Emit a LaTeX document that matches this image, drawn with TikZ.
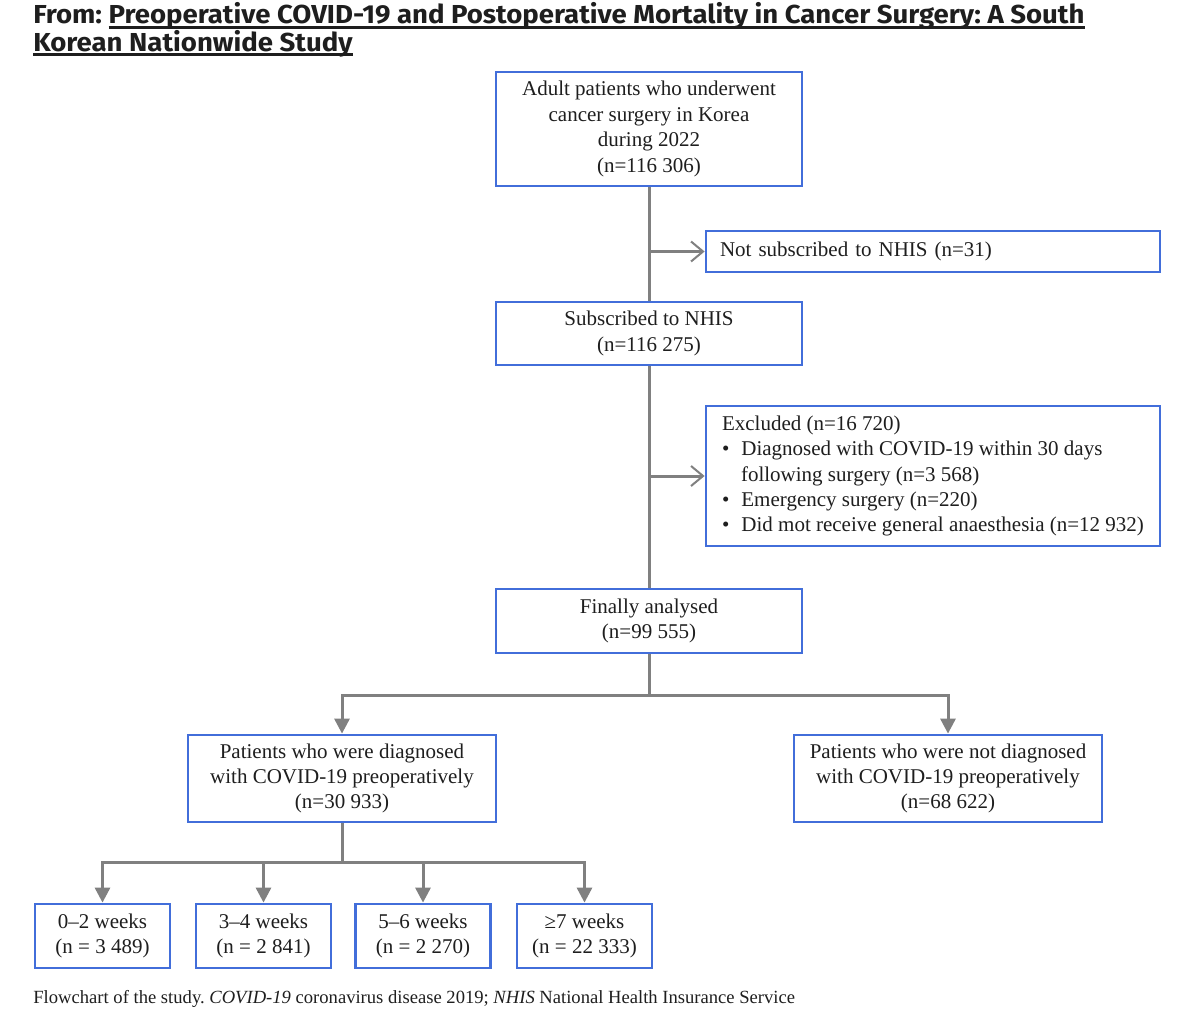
\documentclass[tikz,border=0pt]{standalone}
\usepackage{fontspec}
\setmainfont{Liberation Serif}
\newfontfamily\titlefont[FakeStretch=1.06]{Fira Sans}
\usetikzlibrary{positioning, arrows.meta}
\definecolor{boxblue}{RGB}{66,110,218}
\definecolor{linegray}{RGB}{128,128,128}
\definecolor{inkgray}{RGB}{30,30,30}
\newcommand{\titleul}[1]{\sbox0{#1}\rlap{\rule[-2.3pt]{\wd0}{1.1pt}}\usebox0}
\frenchspacing

\begin{document}
\begin{tikzpicture}[
            x=0.5pt, y=-0.5pt,
            flowbox/.style={draw=boxblue, line width=1.4pt, fill=white, align=center, inner sep=0pt, text=inkgray, font=\fontsize{10.5}{12.7}\selectfont},
            leftbox/.style={flowbox, align=left, minimum width=227pt},
            weekbox/.style={flowbox, minimum width=67.5pt, minimum height=32pt},
            link/.style={draw=linegray, line width=1.5pt},
            barb/.style={link, -{Straight Barb[length=6pt, width=10pt, line width=1pt]}},
            drop/.style={link, -{Triangle[length=7.5pt, width=7.5pt]}},
            plain/.style={inner sep=0pt, anchor=base west, text=inkgray}
        ]
            \useasboundingbox (0,0) rectangle (1200,1033);

            % Title
            \node[plain, font=\titlefont\bfseries\fontsize{13}{13}\selectfont] (title1) at (33,24) {From: \titleul{Preoperative COVID-19 and Postoperative Mortality in Cancer Surgery: A South}};
            \node[plain, font=\titlefont\bfseries\fontsize{13}{13}\selectfont] (title2) at (33,51) {\titleul{Korean Nationwide Study}};

            % Main column
            \node[flowbox, minimum width=153pt, minimum height=57pt] (adult) at (649,129) {Adult patients who underwent\\cancer surgery in Korea\\during 2022\\(n=116 306)};
            \node[flowbox, minimum width=153pt, minimum height=31.5pt] (sub) at (649,333.5) {Subscribed to NHIS\\(n=116 275)};
            \node[flowbox, minimum width=153pt, minimum height=32pt] (final) at (649,621) {Finally analysed\\(n=99 555)};

            % Side boxes
            \node[leftbox, text width=213pt, inner xsep=7pt, minimum height=20.5pt] (notsub) at (933,251.5) {Not subscribed to NHIS (n=31)};
            \node[leftbox, minimum height=70pt] (excl) at (933,476) {Excluded (n=16 720)\\
                \textbullet\hspace{6pt}Diagnosed with COVID-19 within 30 days\\
                \hspace{9.5pt}following surgery (n=3 568)\\
                \textbullet\hspace{6pt}Emergency surgery (n=220)\\
                \textbullet\hspace{6pt}Did mot receive general anaesthesia (n=12 932)};

            % Groups
            \node[flowbox, minimum width=154pt, minimum height=43.5pt] (diag) at (342,778.5) {Patients who were diagnosed\\with COVID-19 preoperatively\\(n=30 933)};
            \node[flowbox, minimum width=154pt, minimum height=43.5pt] (notdiag) at (948,778.5) {Patients who were not diagnosed\\with COVID-19 preoperatively\\(n=68 622)};

            % Weeks row
            \node[weekbox] (wa) at (102.5,936) {0--2 weeks\\(n = 3 489)};
            \node[weekbox] (wb) at (263.5,936) {3--4 weeks\\(n = 2 841)};
            \node[weekbox] (wc) at (423,936) {5--6 weeks\\(n = 2 270)};
            \node[weekbox] (wd) at (584.5,936) {≥7 weeks\\(n = 22 333)};

            % Caption
            \node[plain, font=\fontsize{9.3}{11}\selectfont] (caption) at (33,1003) {Flowchart of the study. \textit{COVID-19} coronavirus disease 2019; \textit{NHIS} National Health Insurance Service};

            % Trunk
            \draw[link] (adult) -- (sub);
            \draw[link] (sub) -- (final);

            % Exclusion arrows
            \coordinate (nsfork) at (adult.south |- notsub.west);
            \coordinate (exfork) at (adult.south |- excl.west);
            \draw[barb] (nsfork) -- (notsub.west);
            \draw[barb] (exfork) -- (excl.west);

            % Split into groups
            \draw[drop] (final.south) -- ++(0,41) -| (diag.north);
            \draw[drop] (final.south) -- ++(0,41) -| (notdiag.north);

            % Split into weeks
            \foreach \w in {wa,wb,wc,wd}
                \draw[drop] (diag.south) -- ++(0,39) -| (\w.north);

        \end{tikzpicture}
\end{document}
